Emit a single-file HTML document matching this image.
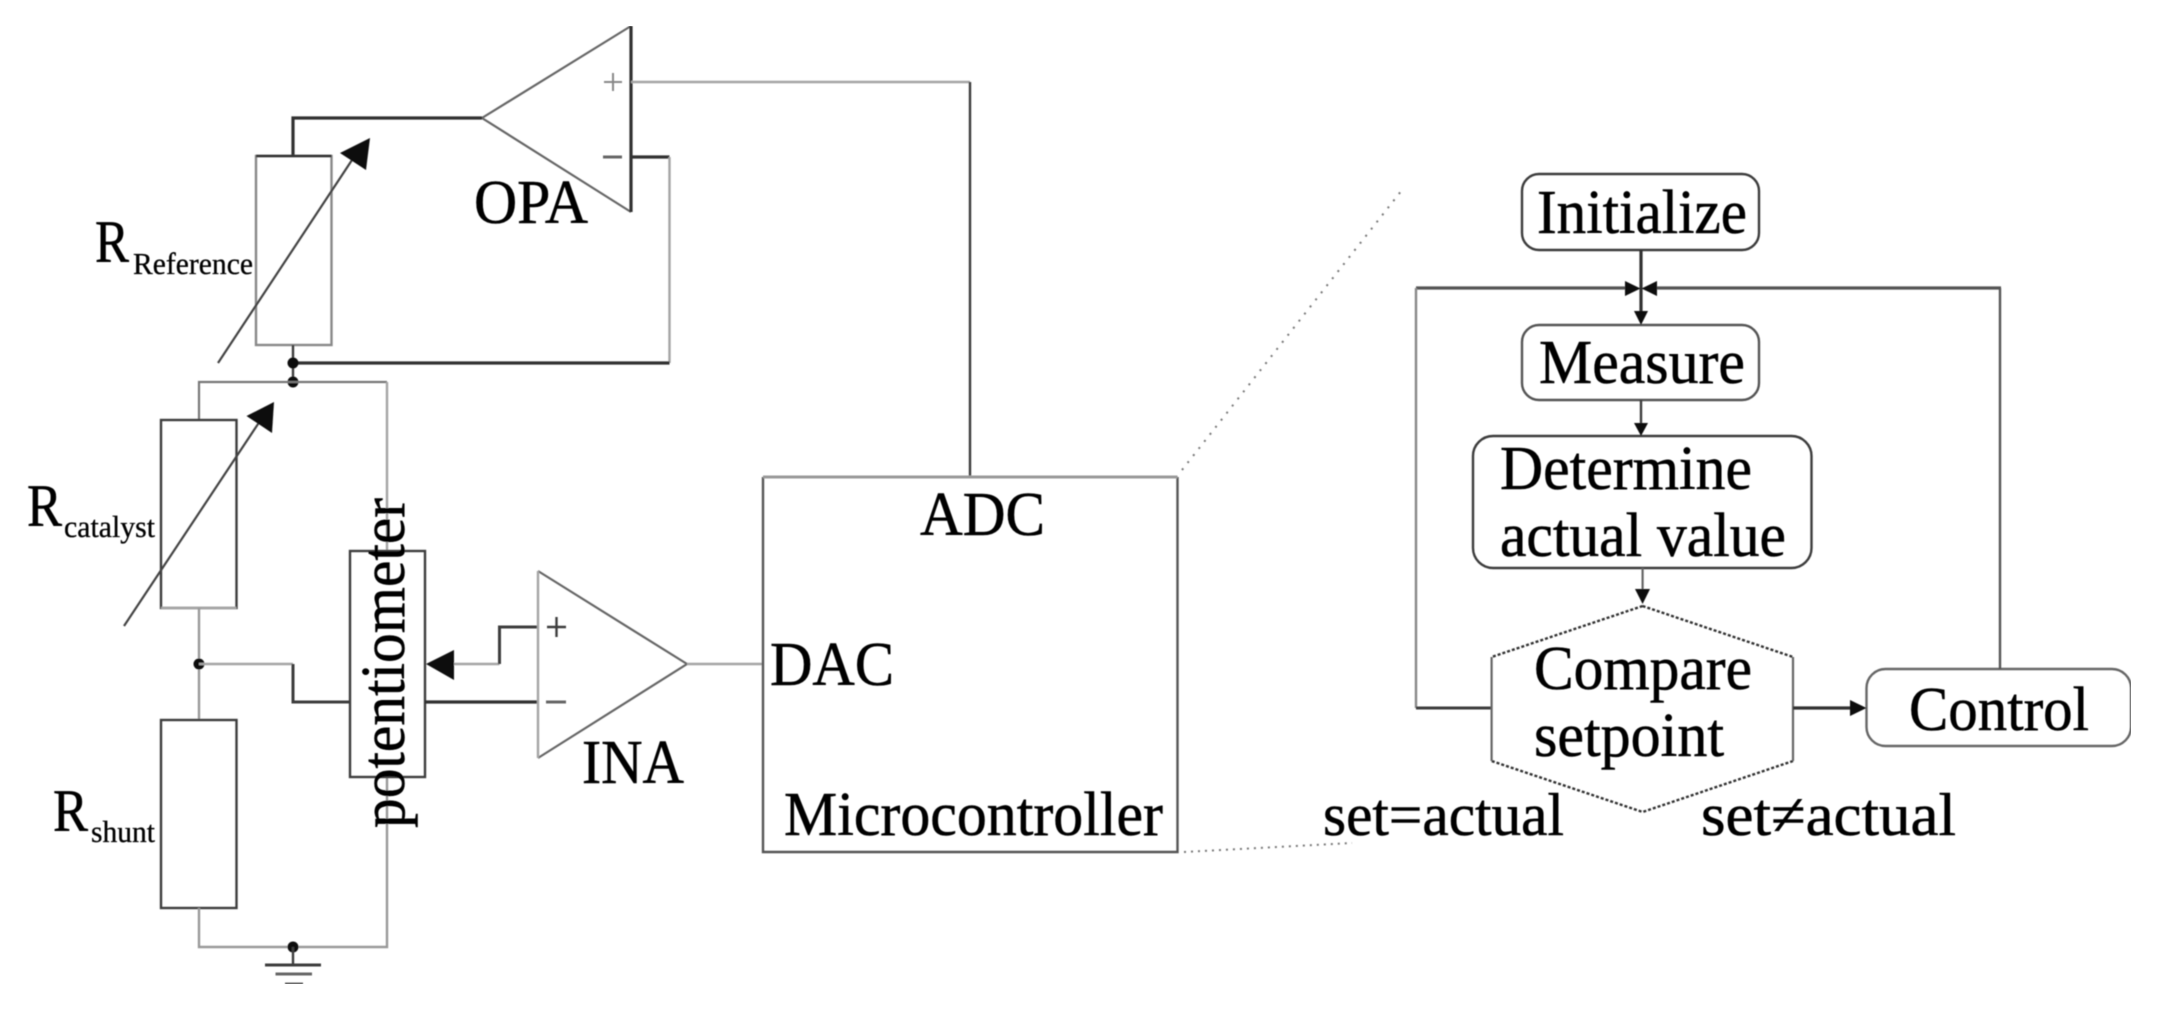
<!DOCTYPE html>
<html><head><meta charset="utf-8"><style>
html,body{margin:0;padding:0;background:#fff}
svg{display:block}
text{font-family:"Liberation Serif",serif;fill:#050505;stroke:#050505;stroke-width:0.55}
.d{stroke:#3c3c3c;fill:none;stroke-width:2.4}
.m{stroke:#666;fill:none;stroke-width:2.2}
.g{stroke:#a4a4a4;fill:none;stroke-width:2.4}
.k{stroke:#333;fill:none;stroke-width:3.2}
.a{stroke:#444;fill:none;stroke-width:2.2}
.f{fill:#111;stroke:none}
</style></head><body>
<svg width="2157" height="1011" viewBox="0 0 2157 1011" xmlns="http://www.w3.org/2000/svg">
<defs><filter id="b" x="0" y="0" width="100%" height="100%"><feGaussianBlur stdDeviation="0.6"/></filter></defs>
<rect width="2157" height="1011" fill="#fff"/>
<g filter="url(#b)">
<!-- OPA -->
<path class="m" d="M631 26 L482 118 L631 212"/>
<path class="k" d="M631 26 V212"/>
<path class="k" d="M293 156 V118 H482"/>
<path class="g" d="M631 82 H970"/>
<path class="d" d="M970 82 V477"/>
<path class="k" d="M631 157 H669.5"/>
<path class="g" d="M669.5 157 V363"/>
<path class="k" d="M669.5 363 H293"/>
<path class="g" d="M604 82 H622 M613 73 V91" style="stroke:#888;stroke-width:2"/>
<path class="m" d="M603 157 H622" style="stroke-width:3"/>
<!-- R reference -->
<rect class="g" x="256" y="156" width="75.5" height="189" style="stroke:#888"/>
<path class="k" d="M256 156 H331.5" style="stroke-width:2.6"/>
<path class="d" d="M293 345 V382"/>
<path class="a" d="M218 363 L352 160"/>
<polygon class="f" points="370,138 340,153 366,170"/>
<circle class="f" cx="293" cy="363" r="5.5"/><circle class="f" cx="293" cy="382" r="5.5"/>
<!-- top rail -->
<path class="m" d="M199 420 V382 H387" style="stroke:#777"/>
<path class="g" d="M387 382 V551"/>
<!-- R catalyst -->
<rect class="d" x="161" y="420" width="75.5" height="188"/>
<path class="g" d="M161 608 H236.5"/>
<path class="a" d="M124 626 L262 418"/>
<polygon class="f" points="274,402 246.5,416 272,433"/>
<path class="g" d="M199 608 V720" style="stroke:#999"/>
<circle class="f" cx="199" cy="664" r="5.5"/>
<path class="g" d="M199 664 H293"/>
<path class="d" d="M293 664 V702 H350" style="stroke-width:3"/>
<!-- R shunt -->
<rect class="d" x="161" y="720" width="75.5" height="188"/>
<path class="g" d="M199 908 V947 H387 V777" style="stroke:#999"/>
<circle class="f" cx="293" cy="947" r="5.5"/>
<path class="d" d="M293 947 V965"/>
<path class="d" d="M265 965 H321" style="stroke-width:3"/>
<path class="m" d="M275.5 974 H312" style="stroke-width:3"/>
<path class="m" d="M285 984 H303" style="stroke-width:3"/>
<!-- potentiometer -->
<rect class="d" x="350" y="551" width="75" height="226"/>
<polygon class="f" points="426,664 454,650 454,680"/>
<path class="g" d="M454 664 H499.5"/>
<path class="d" d="M499.5 664 V627 H538" style="stroke-width:3"/>
<path class="k" d="M425 702 H538"/>
<!-- INA -->
<path class="m" d="M538 571 L687 664 L538 758"/>
<path class="g" d="M538 571 V758"/>
<path class="d" d="M547 627 H566 M556.5 617 V637"/>
<path class="m" d="M546 702 H566" style="stroke-width:3"/>
<path class="g" d="M687 664 H763"/>
<!-- MCU -->
<path class="d" d="M763 477 V852 H1177.5 V477" style="stroke:#555"/>
<path class="g" d="M763 477 H1177.5" style="stroke:#999;stroke-width:3"/>
<!-- dotted -->
<path d="M1182 470 L1402 190" stroke="#777" stroke-width="2" stroke-dasharray="2 7" fill="none"/>
<path d="M1184 852 L1352 843" stroke="#777" stroke-width="2" stroke-dasharray="2 5" fill="none"/>
<!-- flow -->
<rect class="d" x="1522" y="174" width="237" height="76" rx="17"/>
<rect class="d" x="1522" y="325" width="237" height="75" rx="17" style="stroke:#555"/>
<rect class="d" x="1473" y="436" width="338.5" height="132" rx="20"/>
<rect class="d" x="1866.5" y="669" width="264.5" height="77" rx="19" style="stroke:#666"/>
<path class="k" d="M1641 250 V314" />
<polygon class="f" points="1641,325 1634,311 1648,311"/>
<path class="d" d="M1641 400 V424"/>
<polygon class="f" points="1641,436 1634,423 1648,423"/>
<path class="m" d="M1642.6 568 V590"/>
<polygon class="f" points="1642.6,604 1635,589 1650,589"/>
<path class="k" d="M1626 288 H1416" style="stroke:#555"/>
<path class="g" d="M1416 288 V708" style="stroke:#888"/>
<path class="d" d="M1416 708 H1491.6" style="stroke-width:3"/>
<path class="k" d="M1657 288 H2001" style="stroke:#555"/>
<path class="d" d="M2000 288 V669" style="stroke:#555"/>
<polygon class="f" points="1640.5,288.5 1625,281 1625,296"/>
<polygon class="f" points="1641.5,288.5 1657,281 1657,296"/>
<path d="M1642.6 606 L1793 657 M1642.6 606 L1491.6 657 M1793 761 L1642.6 812 L1491.6 761" stroke="#333" stroke-width="2.4" stroke-dasharray="3 2" fill="none"/>
<path class="m" d="M1491.6 657 V761 M1793 657 V761"/>
<path class="k" d="M1793 708 H1852"/>
<polygon class="f" points="1866.5,708 1850,700 1850,716"/>
<!-- labels -->
<text x="474" y="223" font-size="62" textLength="114" lengthAdjust="spacingAndGlyphs">OPA</text>
<text x="95" y="262" font-size="60" textLength="34" lengthAdjust="spacingAndGlyphs">R</text>
<text x="133" y="274" font-size="31" textLength="120" lengthAdjust="spacingAndGlyphs" style="stroke-width:0.3">Reference</text>
<text x="27" y="526" font-size="60" textLength="35" lengthAdjust="spacingAndGlyphs">R</text>
<text x="64" y="537" font-size="31" textLength="91" lengthAdjust="spacingAndGlyphs" style="stroke-width:0.3">catalyst</text>
<text x="53" y="831" font-size="60" textLength="35" lengthAdjust="spacingAndGlyphs">R</text>
<text x="91" y="842" font-size="31" textLength="64" lengthAdjust="spacingAndGlyphs" style="stroke-width:0.3">shunt</text>
<text transform="translate(404 828) rotate(-90)" font-size="62" textLength="330" lengthAdjust="spacingAndGlyphs">potentiometer</text>
<text x="582" y="783" font-size="62" textLength="102" lengthAdjust="spacingAndGlyphs">INA</text>
<text x="920" y="535" font-size="62" textLength="125" lengthAdjust="spacingAndGlyphs">ADC</text>
<text x="770" y="685" font-size="62" textLength="124" lengthAdjust="spacingAndGlyphs">DAC</text>
<text x="784" y="835" font-size="62" textLength="379" lengthAdjust="spacingAndGlyphs">Microcontroller</text>
<text x="1537" y="233" font-size="62" textLength="210" lengthAdjust="spacingAndGlyphs">Initialize</text>
<text x="1539" y="383" font-size="62" textLength="206" lengthAdjust="spacingAndGlyphs">Measure</text>
<text x="1500" y="489" font-size="62" textLength="252" lengthAdjust="spacingAndGlyphs">Determine</text>
<text x="1500" y="556" font-size="62" textLength="286" lengthAdjust="spacingAndGlyphs">actual value</text>
<text x="1534" y="689" font-size="62" textLength="218" lengthAdjust="spacingAndGlyphs">Compare</text>
<text x="1534" y="756" font-size="62" textLength="190" lengthAdjust="spacingAndGlyphs">setpoint</text>
<text x="1909" y="730" font-size="62" textLength="180" lengthAdjust="spacingAndGlyphs">Control</text>
<text x="1323" y="835" font-size="60" textLength="241" lengthAdjust="spacingAndGlyphs">set=actual</text>
<text x="1701" y="835" font-size="60" textLength="255" lengthAdjust="spacingAndGlyphs">set≠actual</text>
</g>
</svg>
</body></html>
